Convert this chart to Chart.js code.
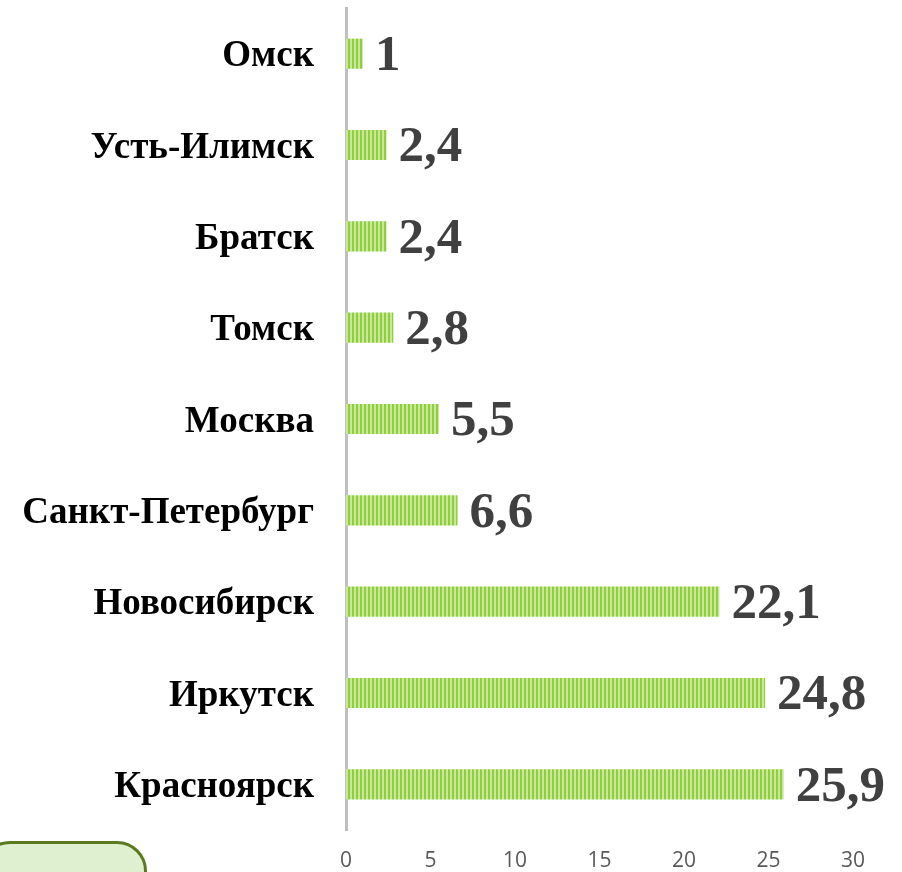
<!DOCTYPE html>
<html>
<head>
<meta charset="utf-8">
<script src="https://cdn.jsdelivr.net/npm/chart.js@4"></script>
<style>
  html, body { margin: 0; padding: 0; background: #fff; overflow: hidden; }
  #wrap { position: relative; width: 902px; height: 872px; }
  canvas { display: block; }
  #box {
    position: absolute; left: -20px; top: 841px; width: 161px; height: 80px;
    background: #dff0d0; border: 3px solid #5b7a1f; border-radius: 30px;
  }
</style>
</head>
<body>
<div id="wrap">
  <canvas id="chart" width="902" height="872"></canvas>
  <div id="box"></div>
</div>
<script>
// города и значения
const cities = ["Омск", "Усть-Илимск", "Братск", "Томск", "Москва", "Санкт-Петербург", "Новосибирск", "Иркутск", "Красноярск"];
const values = [1, 2.4, 2.4, 2.8, 5.5, 6.6, 22.1, 24.8, 25.9];
const xTicks = [0, 5, 10, 15, 20, 25, 30];

// полосатая заливка
function makeStripes() {
  const c = document.createElement("canvas");
  c.width = 4; c.height = 1;
  const g = c.getContext("2d");
  g.fillStyle = "#8fcf3a";
  g.fillRect(0, 0, 2, 1);
  g.fillStyle = "#c9e79f";
  g.fillRect(2, 0, 2, 1);
  return g.createPattern(c, "repeat");
}

// подписи значений справа от столбцов
const valueLabels = {
  id: "valueLabels",
  afterDatasetsDraw(ch) {
    const ctx = ch.ctx;
    const meta = ch.getDatasetMeta(0);
    ctx.save();
    ctx.font = "bold 51px 'Liberation Serif'";
    ctx.fillStyle = "#404040";
    ctx.textBaseline = "middle";
    meta.data.forEach((bar, i) => {
      const txt = String(values[i]).replace(".", ",");
      ctx.fillText(txt, bar.x + 12, bar.y + 3);
    });
    ctx.restore();
  }
};

const ctx = document.getElementById("chart").getContext("2d");
new Chart(ctx, {
  type: "bar",
  data: {
    labels: cities,
    datasets: [{
      data: values,
      backgroundColor: makeStripes(),
      borderWidth: 0,
      barPercentage: 0.33,
      categoryPercentage: 1
    }]
  },
  options: {
    indexAxis: "y",
    responsive: false,
    animation: false,
    layout: { padding: { top: 8, right: 49, left: 0, bottom: 0 } },
    plugins: { legend: { display: false }, tooltip: { enabled: false } },
    scales: {
      x: {
        min: 0, max: 30,
        afterBuildTicks: s => { s.ticks = xTicks.map(v => ({ value: v })); },
        grid: { display: false, drawTicks: false },
        border: { display: false },
        ticks: { color: "#595959", font: { family: "Open Sans", size: 21 }, padding: 18 },
        afterFit: s => { s.height = 42; }
      },
      y: {
        grid: { display: false, drawTicks: false },
        border: { color: "#bfbfbf", width: 3 },
        ticks: { color: "#000", font: { family: "Liberation Serif", size: 37, weight: "bold" }, padding: 32, labelOffset: 3 },
        afterFit: s => { s.width = 346; s.paddingTop = 0; s.paddingBottom = 0; }
      }
    }
  },
  plugins: [valueLabels]
});
</script>
</body>
</html>
